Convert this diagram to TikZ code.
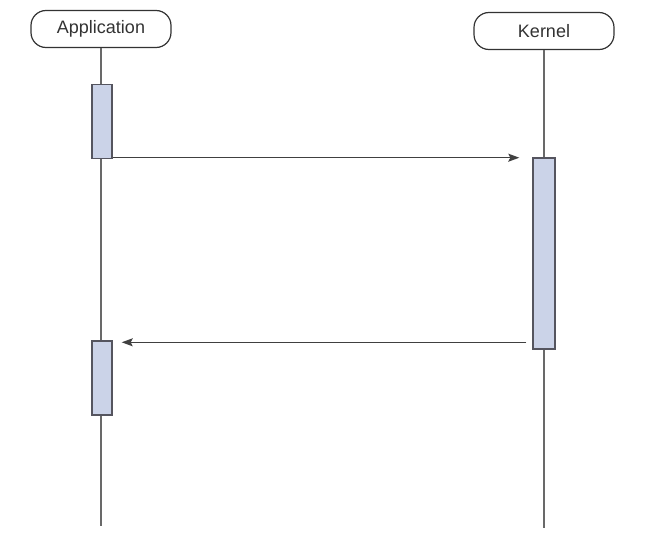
\documentclass[tikz,border=0pt]{standalone}
\usepackage{fontspec}
\setmainfont{Liberation Sans}
\usetikzlibrary{arrows.meta}
\definecolor{lifegray}{RGB}{105,105,105}
\definecolor{actfill}{RGB}{203,211,232}
\definecolor{actdraw}{RGB}{85,85,95}
\tikzset{
    actor/.style={draw=black!80, line width=1.2pt, rounded corners=15pt, fill=white, text=black!80,
        minimum width=140pt, minimum height=37pt, inner sep=0pt, font=\fontsize{18}{21}\selectfont},
    actbox/.style={draw=actdraw, line width=1.4pt, fill=actfill, minimum width=20pt, inner sep=0pt},
    life/.style={draw=lifegray, line width=1.6pt},
    msg/.style={draw=black!75, line width=1.3pt, -{Stealth[length=11pt,width=8pt,inset=2pt]}}
}
\begin{document}
\begin{tikzpicture}[x=1pt, y=-1pt]
    \useasboundingbox (0,0) rectangle (648,554);

    % 1. Hai đối tượng
    \node[actor] (app) at (101,29) {Application};
    \node[actor] (kern) at (544,31) {Kernel};

    % 2. Đường đời (lifeline)
    \coordinate (append) at (102,526);
    \coordinate (kernend) at (544,528);
    \draw[life] (app.south) -- (app.south |- append);
    \draw[life] (kern.south) -- (kern.south |- kernend);

    % 3. Các khối kích hoạt
    \node[actbox, minimum height=74pt] (app1) at (102,121.5) {};
    \node[actbox, minimum height=191pt, minimum width=22pt] (kern1) at (544,253.5) {};
    \node[actbox, minimum height=74pt] (app2) at (102,378) {};

    % 4. Thông điệp
    \draw[msg, shorten >=13pt]
        ([yshift=1.5pt]app1.south east) -- ([yshift=1.5pt]app1.south east -| kern1.west);
    \draw[msg, shorten <=6pt, shorten >=9pt]
        ([yshift=-2pt]kern1.west |- app2.north) -- ([yshift=-2pt]app2.north east);
\end{tikzpicture}
\end{document}
